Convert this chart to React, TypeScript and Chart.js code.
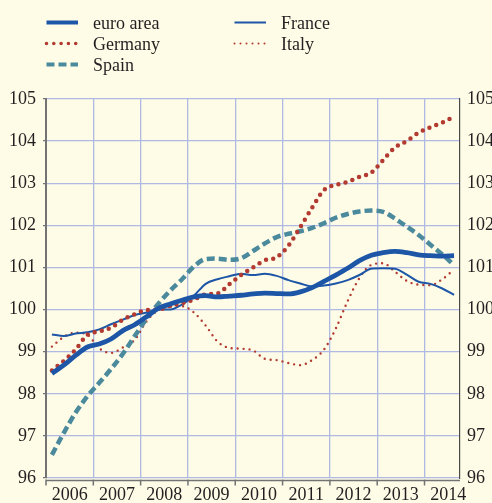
import React, { useEffect, useRef } from "react";
import { Chart, registerables } from "chart.js";

Chart.register(...registerables);

// ---- data ----
const years = [2006, 2007, 2008, 2009, 2010, 2011, 2012, 2013, 2014];
const yearLabels = ["2006", "2007", "2008", "2009", "2010", "2011", "2012", "2013", "2014"];
const lastYear = 2014;
const lastQuarter = 3;

const euroArea = [98.48, 98.68, 98.91, 99.11, 99.18, 99.30, 99.50, 99.64, 99.83, 100.03, 100.13, 100.22, 100.30, 100.33, 100.30, 100.32, 100.34, 100.37, 100.39, 100.38, 100.37, 100.42, 100.52, 100.67, 100.82, 100.98, 101.16, 101.29, 101.35, 101.38, 101.35, 101.30, 101.28, 101.27, 101.28];
const germany = [98.55, 98.78, 99.05, 99.40, 99.48, 99.57, 99.76, 99.89, 99.99, 100.00, 100.09, 100.15, 100.24, 100.36, 100.38, 100.60, 100.82, 101.00, 101.17, 101.24, 101.52, 101.96, 102.42, 102.84, 102.96, 103.03, 103.15, 103.25, 103.55, 103.85, 104.00, 104.20, 104.33, 104.44, 104.58];
const spain = [96.55, 97.07, 97.55, 97.94, 98.26, 98.59, 98.95, 99.37, 99.78, 100.14, 100.45, 100.72, 101.02, 101.20, 101.21, 101.18, 101.22, 101.39, 101.57, 101.72, 101.80, 101.86, 101.94, 102.05, 102.18, 102.27, 102.33, 102.35, 102.32, 102.16, 101.97, 101.77, 101.54, 101.31, 101.05];
const france = [99.41, 99.37, 99.43, 99.46, 99.53, 99.65, 99.76, 99.87, 99.93, 100.00, 100.00, 100.12, 100.33, 100.61, 100.72, 100.79, 100.85, 100.82, 100.85, 100.80, 100.70, 100.62, 100.55, 100.57, 100.62, 100.70, 100.82, 100.97, 100.98, 100.97, 100.83, 100.66, 100.61, 100.50, 100.35];
const italy = [99.12, 99.35, 99.45, 99.40, 99.08, 98.97, 99.10, 99.28, 99.72, 99.99, 100.07, 100.08, 99.93, 99.62, 99.24, 99.09, 99.07, 99.03, 98.83, 98.80, 98.73, 98.68, 98.80, 99.05, 99.55, 100.20, 100.75, 101.06, 101.10, 100.90, 100.68, 100.59, 100.58, 100.72, 100.95];

const yMin = 96;
const yMax = 105;

// quarterly periods (category axis of the series)
const periods: { year: number; q: number }[] = [];
for (const y of years) {
  for (let q = 1; q <= 4; q++) {
    if (y === lastYear && q > lastQuarter) break;
    periods.push({ year: y, q });
  }
}
const periodX = periods.map((p) => p.year + (p.q - 0.5) / 4);

// ---- styles ----
const W = 492;
const H = 503;
const BG = "#fefce7";
const GRID = "#b0b9e3";
const AXIS = "#737373";
const TEXT = "#231f20";
const FONT_FAMILY = "'Liberation Serif', 'Times New Roman', serif";
const BLUE = "#1d56a6";
const RED = "#b23a30";
const TEAL = "#4b8a9d";

const seriesDefs = [
  { label: "euro area", values: euroArea, color: BLUE, width: 4.8, dash: [] as number[], cap: "butt" },
  { label: "Germany", values: germany, color: RED, width: 4.5, dash: [0, 7.3], cap: "round" },
  { label: "Spain", values: spain, color: TEAL, width: 4.5, dash: [8, 4], cap: "butt" },
  { label: "France", values: france, color: BLUE, width: 2, dash: [] as number[], cap: "butt" },
  { label: "Italy", values: italy, color: RED, width: 2.4, dash: [0, 6], cap: "round" },
];

// legend layout: [datasetIndex, x of sample start, baseline y]
const legendSlots = [
  { i: 0, x: 45, y: 28.5, w: 4 },
  { i: 1, x: 45, y: 49.5, w: 3.6 },
  { i: 2, x: 45, y: 70.5, w: 4 },
  { i: 3, x: 233, y: 28.5, w: 2 },
  { i: 4, x: 233, y: 49.5, w: 2 },
];

const bgPlugin = {
  id: "bg",
  beforeDraw(chart: any) {
    const ctx = chart.ctx;
    ctx.save();
    ctx.fillStyle = BG;
    ctx.fillRect(0, 0, chart.width, chart.height);
    ctx.restore();
  },
};

const xAxisPlugin = {
  id: "xAxisLine",
  afterDraw(chart: any) {
    const ctx = chart.ctx;
    const xs = chart.scales.x;
    const { left, right, bottom } = chart.chartArea;
    const yLine = bottom + 2.5;
    ctx.save();
    ctx.strokeStyle = AXIS;
    ctx.lineWidth = 1.5;
    ctx.beginPath();
    ctx.moveTo(left, yLine);
    ctx.lineTo(right, yLine);
    for (const yv of years) {
      const px = xs.getPixelForValue(yv);
      ctx.moveTo(px, yLine - 1);
      ctx.lineTo(px, yLine + 5);
    }
    ctx.stroke();
    ctx.restore();
  },
};

const legendPlugin = {
  id: "customLegend",
  afterDraw(chart: any) {
    const ctx = chart.ctx;
    ctx.save();
    for (const slot of legendSlots) {
      const ds = chart.data.datasets[slot.i];
      const ly = slot.y - 6;
      ctx.strokeStyle = ds.borderColor;
      ctx.lineWidth = slot.w;
      ctx.lineCap = ds.borderCapStyle;
      ctx.setLineDash(ds.borderDash || []);
      ctx.beginPath();
      ctx.moveTo(slot.x + 1.5, ly);
      ctx.lineTo(slot.x + 33, ly);
      ctx.stroke();
      ctx.setLineDash([]);
      ctx.fillStyle = TEXT;
      ctx.font = `18px ${FONT_FAMILY}`;
      ctx.textBaseline = "alphabetic";
      ctx.textAlign = "left";
      ctx.fillText(ds.label, slot.x + 48, slot.y);
    }
    ctx.restore();
  },
};

export default function App() {
  const canvasRef = useRef<HTMLCanvasElement | null>(null);

  useEffect(() => {
    document.body.style.margin = "0";
    document.body.style.background = BG;
    const canvas = canvasRef.current;
    if (!canvas) return;

    const tickVals: number[] = [];
    for (const y of years) {
      tickVals.push(y);
      tickVals.push(y + 0.5);
    }

    const chart = new Chart(canvas, {
      type: "line",
      data: {
        datasets: seriesDefs.map((s) => ({
          label: s.label,
          data: s.values.map((v, i) => ({ x: periodX[i], y: v })),
          borderColor: s.color,
          backgroundColor: s.color,
          borderWidth: s.width,
          borderDash: s.dash,
          borderCapStyle: s.cap as any,
          borderJoinStyle: "round" as any,
          pointRadius: 0,
          cubicInterpolationMode: "monotone" as any,
          fill: false,
        })),
      },
      options: {
        responsive: false,
        animation: false,
        devicePixelRatio: 1,
        layout: { padding: { top: 99, left: 0, right: 0, bottom: 0 } },
        plugins: {
          legend: { display: false },
          tooltip: { enabled: false },
        },
        scales: {
          x: {
            type: "linear",
            min: 2006,
            max: 2014.75,
            afterBuildTicks: (scale: any) => {
              scale.ticks = tickVals.map((v) => ({ value: v }));
            },
            afterFit: (scale: any) => {
              scale.height = 25;
            },
            grid: {
              color: (ctx: any) =>
                ctx.tick && Number.isInteger(ctx.tick.value) ? GRID : "rgba(0,0,0,0)",
              lineWidth: 1.3,
              drawTicks: false,
            },
            border: { display: false },
            ticks: {
              autoSkip: false,
              maxRotation: 0,
              padding: 6,
              color: TEXT,
              font: { family: FONT_FAMILY, size: 18 },
              callback: (value: any) => {
                const v = Number(value);
                if (Number.isInteger(v)) return "";
                const idx = years.indexOf(Math.floor(v));
                return idx >= 0 ? yearLabels[idx] : "";
              },
            },
          },
          y: {
            position: "left",
            min: yMin,
            max: yMax,
            afterFit: (scale: any) => {
              scale.width = 46;
            },
            grid: { color: GRID, lineWidth: 1.3, tickColor: AXIS, tickLength: 3 },
            border: { color: AXIS, width: 2 },
            ticks: {
              stepSize: 1,
              padding: 7,
              color: TEXT,
              font: { family: FONT_FAMILY, size: 18 },
            },
          },
          y2: {
            position: "right",
            min: yMin,
            max: yMax,
            afterFit: (scale: any) => {
              scale.width = 32;
            },
            grid: { display: false, drawTicks: false },
            border: { color: "#4a4a4a", width: 1.2 },
            ticks: {
              stepSize: 1,
              padding: 7,
              color: TEXT,
              font: { family: FONT_FAMILY, size: 18 },
            },
          },
        },
      },
      plugins: [bgPlugin, xAxisPlugin, legendPlugin],
    });

    return () => {
      chart.destroy();
    };
  }, []);

  return (
    <div style={{ width: W, height: H }}>
      <canvas ref={canvasRef} width={W} height={H} style={{ display: "block" }} />
    </div>
  );
}
